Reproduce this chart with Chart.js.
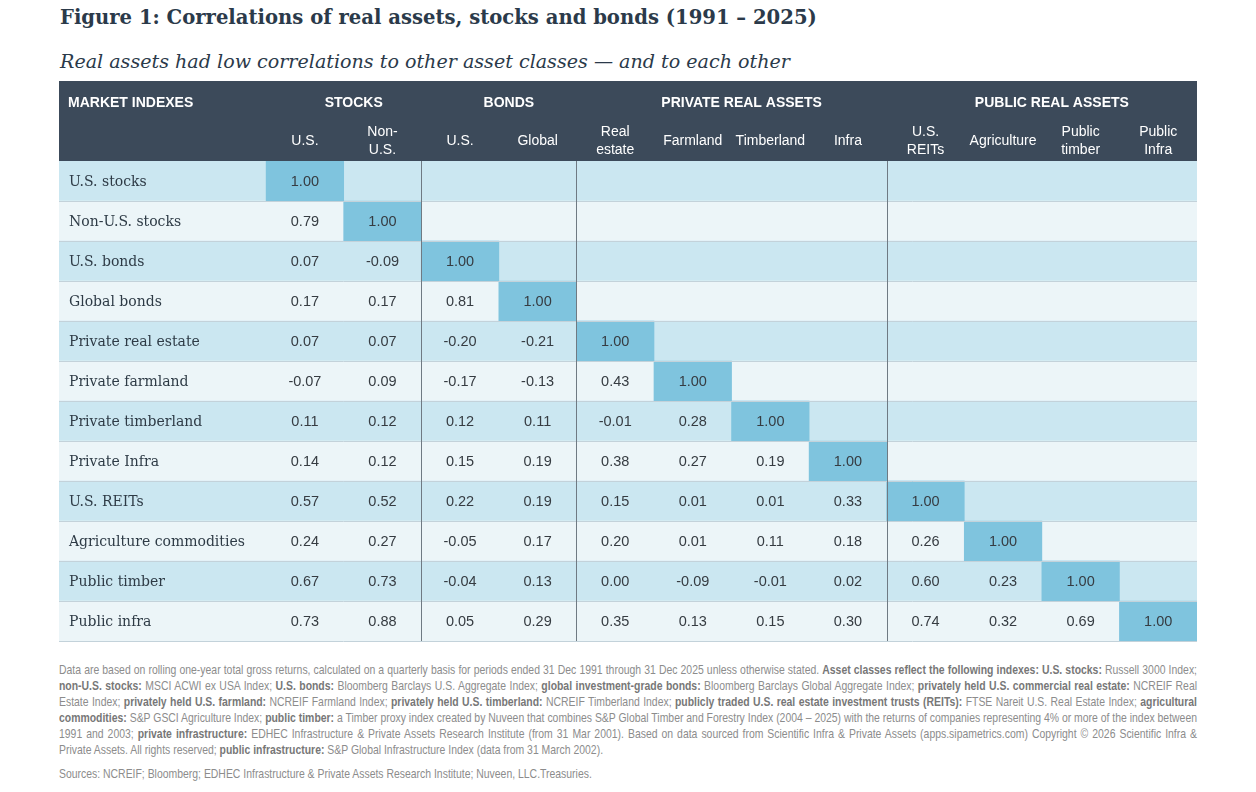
<!DOCTYPE html>
<html>
<head>
<meta charset="utf-8">
<script src="https://cdn.jsdelivr.net/npm/chart.js@4.4.1/dist/chart.umd.min.js"></script>
<style>
body{margin:0;background:#fff;width:1256px;height:792px;position:relative;overflow:hidden}
#title{position:absolute;left:60px;top:4px;font:bold 19.6px "DejaVu Serif",serif;color:#2b3a4a;white-space:nowrap;line-height:28px}
#subtitle{position:absolute;left:60px;top:48px;font:italic 19.1px "DejaVu Serif",serif;color:#2b3a4a;white-space:nowrap;line-height:28px}
#chart{position:absolute;left:0;top:0}
#notes{position:absolute;left:59px;top:662px;width:1138px;font:13px "Liberation Sans",sans-serif;color:#8c8c8c;line-height:16px;transform-origin:0 0}
#notes div{white-space:nowrap;text-align:justify;text-align-last:justify}
#notes div.last{text-align-last:left}
#notes b{color:#777}
#sources{margin-top:8px}
</style>
</head>
<body>
<div id="title">Figure 1: Correlations of real assets, stocks and bonds (1991 – 2025)</div>
<div id="subtitle">Real assets had low correlations to other asset classes — and to each other</div>
<canvas id="chart" width="1256" height="650"></canvas>
<div id="notes">
<div>Data are based on rolling one-year total gross returns, calculated on a quarterly basis for periods ended 31 Dec 1991 through 31 Dec 2025 unless otherwise stated. <b>Asset classes reflect the following indexes: U.S. stocks:</b> Russell 3000 Index;</div>
<div><b>non-U.S. stocks:</b> MSCI ACWI ex USA Index; <b>U.S. bonds:</b> Bloomberg Barclays U.S. Aggregate Index; <b>global investment-grade bonds:</b> Bloomberg Barclays Global Aggregate Index; <b>privately held U.S. commercial real estate:</b> NCREIF Real</div>
<div>Estate Index; <b>privately held U.S. farmland:</b> NCREIF Farmland Index; <b>privately held U.S. timberland:</b> NCREIF Timberland Index; <b>publicly traded U.S. real estate investment trusts (REITs):</b> FTSE Nareit U.S. Real Estate Index; <b>agricultural</b></div>
<div><b>commodities:</b> S&amp;P GSCI Agriculture Index; <b>public timber:</b> a Timber proxy index created by Nuveen that combines S&amp;P Global Timber and Forestry Index (2004 – 2025) with the returns of companies representing 4% or more of the index between</div>
<div>1991 and 2003; <b>private infrastructure:</b> EDHEC Infrastructure &amp; Private Assets Research Institute (from 31 Mar 2001). Based on data sourced from Scientific Infra &amp; Private Assets (apps.sipametrics.com) Copyright © 2026 Scientific Infra &amp;</div>
<div class="last">Private Assets. All rights reserved; <b>public infrastructure:</b> S&amp;P Global Infrastructure Index (data from 31 March 2002).</div>
<div class="last" id="sources">Sources: NCREIF; Bloomberg; EDHEC Infrastructure &amp; Private Assets Research Institute; Nuveen, LLC.Treasuries.</div>
</div>
<script>
var rowLabels = ["U.S. stocks", "Non-U.S. stocks", "U.S. bonds", "Global bonds", "Private real estate", "Private farmland",
	"Private timberland", "Private Infra", "U.S. REITs", "Agriculture commodities", "Public timber", "Public infra"];

var colLabels = [["U.S."], ["Non-", "U.S."], ["U.S."], ["Global"], ["Real", "estate"], ["Farmland"], ["Timberland"],
	["Infra"], ["U.S.", "REITs"], ["Agriculture"], ["Public", "timber"], ["Public", "Infra"]];

var groupLabels = ["STOCKS", "BONDS", "PRIVATE REAL ASSETS", "PUBLIC REAL ASSETS"];
var groupStarts = [0, 2, 4, 8];
var groupEnds = [2, 4, 8, 12];

// lower triangle, one row per asset
var corr = [
	[1.00],
	[0.79, 1.00],
	[0.07, -0.09, 1.00],
	[0.17, 0.17, 0.81, 1.00],
	[0.07, 0.07, -0.20, -0.21, 1.00],
	[-0.07, 0.09, -0.17, -0.13, 0.43, 1.00],
	[0.11, 0.12, 0.12, 0.11, -0.01, 0.28, 1.00],
	[0.14, 0.12, 0.15, 0.19, 0.38, 0.27, 0.19, 1.00],
	[0.57, 0.52, 0.22, 0.19, 0.15, 0.01, 0.01, 0.33, 1.00],
	[0.24, 0.27, -0.05, 0.17, 0.20, 0.01, 0.11, 0.18, 0.26, 1.00],
	[0.67, 0.73, -0.04, 0.13, 0.00, -0.09, -0.01, 0.02, 0.60, 0.23, 1.00],
	[0.73, 0.88, 0.05, 0.29, 0.35, 0.13, 0.15, 0.30, 0.74, 0.32, 0.69, 1.00]
];

var nCols = colLabels.length;
var xMin = -2.67;

var datasets = [{
	label: "rows",
	data: rowLabels.map(function () { return [xMin, nCols]; }),
	backgroundColor: rowLabels.map(function (r, i) { return i % 2 == 0 ? "#cbe7f1" : "#ecf5f8"; }),
	order: 2
}];

for (var j = 0; j < nCols; j++) {
	datasets.push({
		label: colLabels[j].join(" "),
		data: corr.map(function (row) { return j < row.length ? [j, j + 1] : null; }),
		backgroundColor: corr.map(function (row, i) { return i == j ? "#7fc4de" : "rgba(0,0,0,0)"; }),
		order: 1
	});
}

var tablePlugin = {
	id: "table",
	beforeDraw: function (chart) {
		var ctx = chart.ctx, a = chart.chartArea, x = chart.scales.x;
		ctx.save();
		ctx.fillStyle = "#3c4a5a";
		ctx.fillRect(a.left, a.top - 80, a.right - a.left, 80);

		ctx.fillStyle = "#ffffff";
		ctx.textBaseline = "middle";
		ctx.font = "bold 14px 'Liberation Sans', sans-serif";
		ctx.textAlign = "left";
		ctx.fillText("MARKET INDEXES", a.left + 9, a.top - 58);
		ctx.textAlign = "center";
		for (var g = 0; g < groupLabels.length; g++) {
			var gx = (x.getPixelForValue(groupStarts[g]) + x.getPixelForValue(groupEnds[g])) / 2 + 10;
			ctx.fillText(groupLabels[g], gx, a.top - 58);
		}

		ctx.font = "14px 'Liberation Sans', sans-serif";
		for (var c = 0; c < nCols; c++) {
			var cx = x.getPixelForValue(c + 0.5);
			var lines = colLabels[c];
			if (lines.length == 1) {
				ctx.fillText(lines[0], cx, a.top - 20);
			} else {
				ctx.fillText(lines[0], cx, a.top - 29);
				ctx.fillText(lines[1], cx, a.top - 11);
			}
		}
		ctx.restore();
	},
	afterDatasetsDraw: function (chart) {
		var ctx = chart.ctx, a = chart.chartArea, x = chart.scales.x, y = chart.scales.y;
		ctx.save();

		ctx.strokeStyle = "#c3d2da";
		ctx.lineWidth = 1;
		for (var i = 0; i < rowLabels.length; i++) {
			var ly = Math.round(y.getPixelForValue(i + 0.5)) + 0.5;
			ctx.beginPath();
			ctx.moveTo(a.left, ly);
			ctx.lineTo(a.right, ly);
			ctx.stroke();
		}

		ctx.strokeStyle = "#6f7a83";
		for (var g = 1; g < groupStarts.length; g++) {
			var lx = Math.round(x.getPixelForValue(groupStarts[g])) + 0.5;
			ctx.beginPath();
			ctx.moveTo(lx, a.top);
			ctx.lineTo(lx, a.bottom);
			ctx.stroke();
		}

		// row labels
		ctx.fillStyle = "#2e3b46";
		ctx.font = "14px 'DejaVu Serif', serif";
		ctx.textAlign = "left";
		ctx.textBaseline = "middle";
		rowLabels.forEach(function (lab, r) {
			ctx.fillText(lab, a.left + 10, y.getPixelForValue(r) + 1);
		});

		// cell values
		ctx.fillStyle = "#363c42";
		ctx.font = "14.5px 'Liberation Sans', sans-serif";
		ctx.textAlign = "center";
		for (var d = 1; d < chart.data.datasets.length; d++) {
			var col = d - 1;
			var meta = chart.getDatasetMeta(d);
			meta.data.forEach(function (bar, r) {
				if (col >= corr[r].length) return;
				var p = bar.getCenterPoint();
				ctx.fillText(corr[r][col].toFixed(2), p.x, p.y + 1);
			});
		}
		ctx.restore();
	}
};

new Chart(document.getElementById("chart"), {
	type: "bar",
	data: {
		labels: rowLabels,
		datasets: datasets
	},
	options: {
		indexAxis: "y",
		responsive: false,
		animation: false,
		layout: { padding: { left: 59, right: 59, top: 161, bottom: 9 } },
		datasets: { bar: { grouped: false, barPercentage: 1, categoryPercentage: 1, borderWidth: 0 } },
		plugins: { legend: { display: false }, tooltip: { enabled: false } },
		scales: {
			x: { type: "linear", min: xMin, max: nCols, display: false },
			y: { type: "category", display: false }
		}
	},
	plugins: [tablePlugin]
});

// squeeze the footnote so its longest line fits the table width
var notes = document.getElementById("notes");
var noteLines = notes.querySelectorAll("div");
var widest = 0;
noteLines.forEach(function (el) {
	el.style.display = "inline-block";
	widest = Math.max(widest, el.getBoundingClientRect().width);
	el.style.display = "";
});
var squeeze = 1138 / widest;
notes.style.width = (1138 / squeeze) + "px";
notes.style.transform = "scaleX(" + squeeze + ")";
</script>
</body>
</html>
